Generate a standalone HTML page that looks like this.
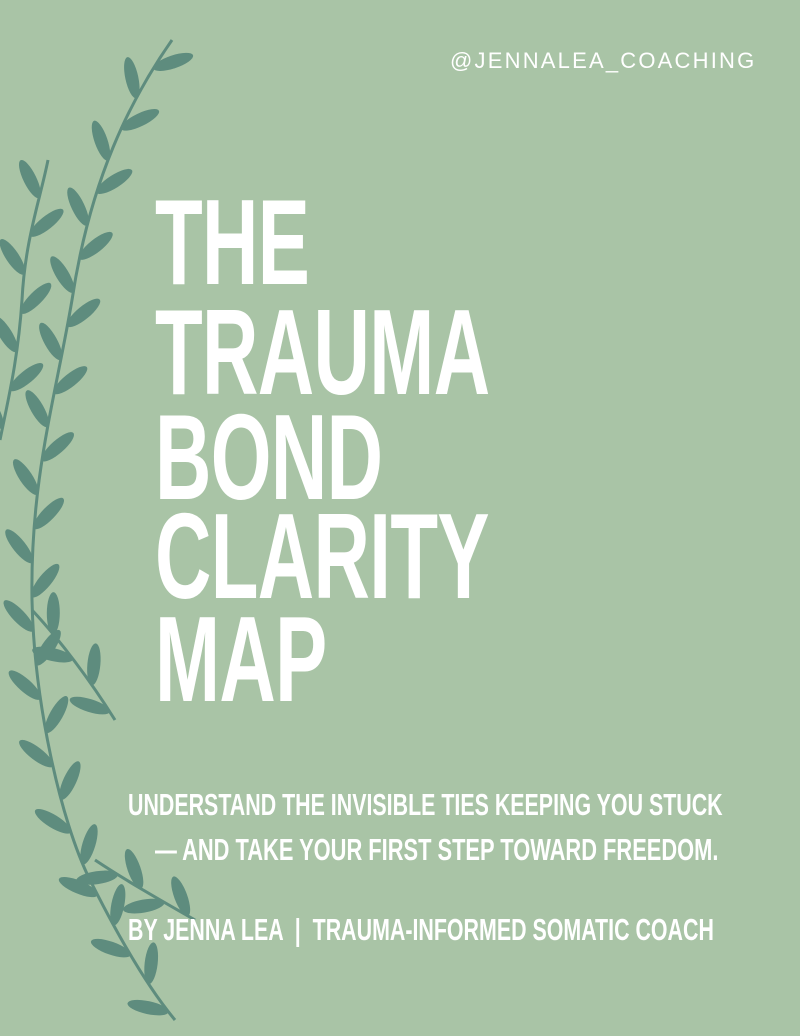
<!DOCTYPE html>
<html><head><meta charset="utf-8"><style>
html,body{margin:0;padding:0}
body{width:800px;height:1036px;background:#a9c4a6;position:relative;overflow:hidden;font-family:"Liberation Sans",sans-serif;color:#fff}
.t{position:absolute;left:155px;font-weight:bold;font-size:122px;line-height:1;transform-origin:left top;transform:scaleX(0.64);white-space:nowrap;letter-spacing:-1px}
.h{position:absolute;top:48px;left:450px;font-size:22px;letter-spacing:2.2px}
.s{position:absolute;font-weight:bold;font-size:31px;white-space:nowrap;transform-origin:left top;transform:scaleX(0.69)}
svg{position:absolute;left:0;top:0}
</style></head><body>
<svg width="800" height="1036" id="v"><g fill="#5e8c7e" stroke="#5e8c7e" id="g"></g></svg>
<div class="h">@JENNALEA_COACHING</div>
<div class="t" style="top:181px">THE</div>
<div class="t" style="top:291px">TRAUMA</div>
<div class="t" style="top:396px">BOND</div>
<div class="t" style="top:495px">CLARITY</div>
<div class="t" style="top:598px">MAP</div>
<div class="s" style="left:128px;top:787px">UNDERSTAND THE INVISIBLE TIES KEEPING YOU STUCK</div>
<div class="s" style="left:155px;top:832px;transform:scaleX(0.705)">— AND TAKE YOUR FIRST STEP TOWARD FREEDOM.</div>
<div class="s" style="left:128px;top:912px">BY JENNA LEA &nbsp;|&nbsp; TRAUMA-INFORMED SOMATIC COACH</div>
<script>
var g=document.getElementById('g'),NS="http://www.w3.org/2000/svg";
function stem(d,n,side0){var p=document.createElementNS(NS,'path');p.setAttribute('d',d);p.setAttribute('fill','none');p.setAttribute('stroke-width','3');g.appendChild(p);
var L=p.getTotalLength();for(var i=1;i<=n;i++){var l=L*i/(n+0.3),a=p.getPointAtLength(l),b=p.getPointAtLength(Math.min(L,l+2));
var ang=Math.atan2(b.y-a.y,b.x-a.x)*180/Math.PI;var s=(i+side0)%2?1:-1;var r=ang+s*40;
var e=document.createElementNS(NS,'ellipse');var len=21;e.setAttribute('cx',len);e.setAttribute('cy',0);e.setAttribute('rx',len);e.setAttribute('ry',6.5);e.setAttribute('stroke','none');
e.setAttribute('transform','translate('+a.x+','+a.y+') rotate('+(r+180)+')');g.appendChild(e);}}
stem("M172,40 C130,100 90,180 72,300 C55,400 30,480 32,600 C34,700 60,820 90,880 C120,940 150,990 175,1020",30,0);
stem("M48,160 C40,200 25,240 22,300 C18,360 8,400 0,440",7,1);
stem("M32,610 C60,640 90,680 115,720",4,0);
stem("M95,860 C125,880 160,900 195,920",4,1);
</script>
</body></html>
